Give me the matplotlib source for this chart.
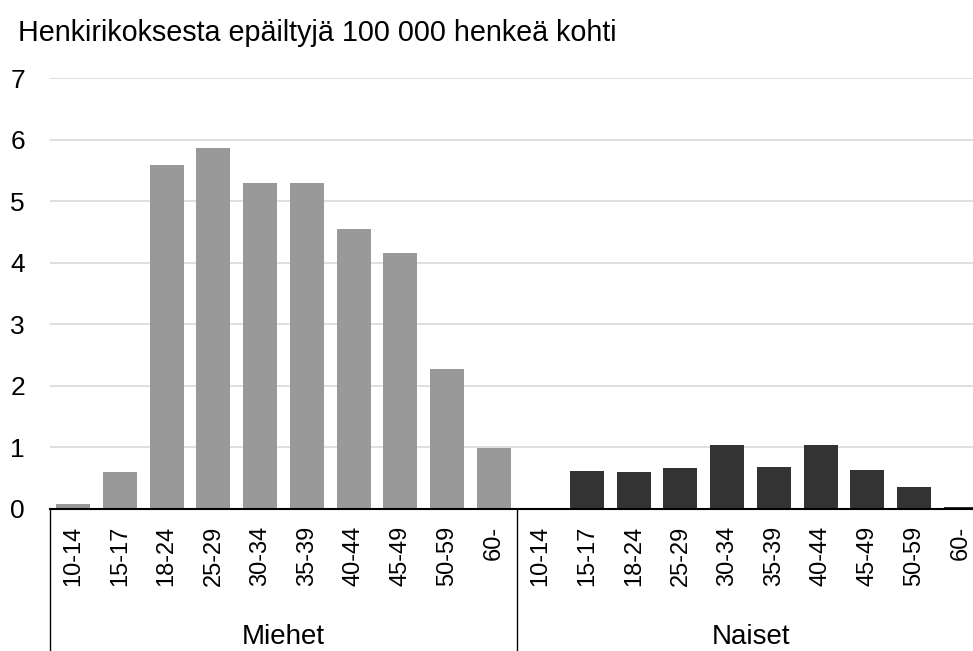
import matplotlib
matplotlib.use("Agg")
import matplotlib.pyplot as plt
import numpy as np

plt.rcParams['font.family'] = ['Liberation Sans', 'DejaVu Sans']

title = "Henkirikoksesta epäiltyjä 100 000 henkeä kohti"
age_groups = ["10-14", "15-17", "18-24", "25-29", "30-34", "35-39", "40-44", "45-49", "50-59", "60-"]
groups = ["Miehet", "Naiset"]
miehet = [0.08, 0.60, 5.59, 5.87, 5.30, 5.30, 4.55, 4.15, 2.28, 0.99]
naiset = [0.0, 0.62, 0.60, 0.67, 1.04, 0.68, 1.04, 0.63, 0.36, 0.03]
yticks = [0, 1, 2, 3, 4, 5, 6, 7]

W, H = 973, 651
fig = plt.figure(figsize=(W / 100, H / 100), dpi=100)
ax_left, ax_right_full = 50, 984
ax_top, ax_bottom = 78, 509
ax = fig.add_axes([ax_left / W, (H - ax_bottom) / H, (W - ax_left) / W, (ax_bottom - ax_top) / H])

n = len(age_groups)
step_px = (ax_right_full - ax_left) / (2 * n)
x_m = np.arange(n)
x_n = np.arange(n) + n
ax.bar(x_m, miehet, width=0.73, color="#999999", zorder=2)
ax.bar(x_n, naiset, width=0.73, color="#333333", zorder=2)

ax.set_ylim(0, 7)
xmax = -0.5 + (W - ax_left) / step_px
ax.set_xlim(-0.5, xmax)
ax.set_yticks(yticks)
ax.set_yticklabels([str(v) for v in yticks], fontsize=19)
ax.tick_params(axis='y', length=0, pad=18)
ax.yaxis.grid(True, color="#d9d9d9", linewidth=1.2, zorder=0)
for s in ["top", "right", "left"]:
    ax.spines[s].set_visible(False)
ax.spines["bottom"].set_color("black")
ax.spines["bottom"].set_linewidth(1.5)
ax.spines["bottom"].set_zorder(3)

ax.set_xticks(list(x_m) + list(x_n))
ax.set_xticklabels(age_groups + age_groups, rotation=90, fontsize=17, va="top", ha="center")
ax.tick_params(axis='x', length=0, pad=12)

# group separators and labels
trans = ax.get_xaxis_transform()
fig_bottom_ax = -(H - ax_bottom) / (ax_bottom - ax_top)
for xb in [-0.5, n - 0.5, 2 * n - 0.5]:
    ax.plot([xb, xb], [0, fig_bottom_ax], transform=trans, color="black", linewidth=1, clip_on=False)
label_y = -(637 - ax_bottom) / (ax_bottom - ax_top)
ax.text((n - 1) / 2, label_y, groups[0], transform=trans, ha="center", va="center", fontsize=20)
ax.text(n + (n - 1) / 2, label_y, groups[1], transform=trans, ha="center", va="center", fontsize=20)

fig.text(18 / W, 1 - 33 / H, title, ha="left", va="center", fontsize=20.7)

fig.savefig("out.png", dpi=100)
